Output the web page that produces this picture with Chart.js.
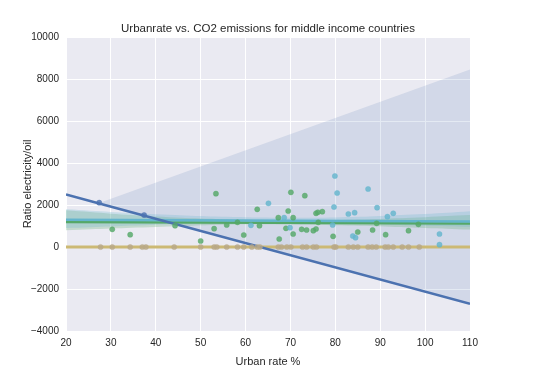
<!DOCTYPE html>
<html>
<head>
<meta charset="utf-8">
<script src="https://cdn.jsdelivr.net/npm/chart.js@4/dist/chart.umd.min.js"></script>
<style>
  html, body { margin: 0; padding: 0; background: #fff; }
  #wrap { width: 540px; height: 369px; }
</style>
</head>
<body>
<div id="wrap"><canvas id="chart"></canvas></div>
<script>
// axis ticks
const xTicks = [20, 30, 40, 50, 60, 70, 80, 90, 100, 110];
const yTicks = [-4000, -2000, 0, 2000, 4000, 6000, 8000, 10000];

// scatter points
const bluePts = [[27.4, 2110], [37.4, 1520]];
const greenPts = [[30.3, 841], [34.3, 587], [44.3, 1016], [50.0, 286], [53.0, 873], [53.4, 2540], [55.8, 1048],
  [58.2, 1175], [59.6, 571], [62.6, 1794], [63.1, 1016], [67.3, 1397], [67.5, 381], [69.0, 889], [69.5, 1714],
  [70.1, 2603], [70.6, 1397], [70.6, 619], [72.5, 841], [73.2, 2444], [73.6, 810], [75.1, 778], [75.7, 857],
  [75.7, 1603], [76.1, 1651], [76.2, 1175], [77.1, 1683], [79.5, 508], [85.0, 714], [88.3, 810], [89.2, 1127],
  [91.2, 587], [96.3, 778], [98.5, 1080]];
const cyanPts = [[61.2, 1032], [65.1, 2079], [68.6, 1397], [69.9, 920], [79.4, 1048], [79.7, 1905], [79.9, 3381],
  [80.4, 2571], [82.9, 1571], [83.9, 524], [84.3, 1635], [84.5, 444], [87.3, 2762], [89.3, 1873], [91.6, 1444],
  [92.9, 1603], [103.2, 619], [103.2, 111]];
const goldX = [27.7, 30.3, 34.3, 37.0, 37.8, 44.1, 50.0, 53.0, 53.6, 55.8, 58.2, 59.6, 61.4, 62.6, 63.2, 67.3,
  68.0, 69.2, 70.1, 72.7, 73.6, 75.1, 75.8, 79.7, 80.1, 82.9, 84.0, 85.0, 87.3, 88.2, 89.1, 91.1, 91.8, 92.9,
  94.9, 96.3, 98.7];

// regression lines (x, y)
const blueFit = [[20, 2500], [27.4, 2072], [110, -2700]];
const blueUpper = [[27.4, 2090], [110, 8450]];
const greenFit = [[20, 1190], [110, 1120]];
const cyanFit = [[20, 1300], [110, 1215]];
const goldFit = [[20, 0], [110, 0]];

// confidence bands
const bandX = [20, 40, 60, 80, 100, 110];
const greenUpper = [1750, 1450, 1300, 1290, 1420, 1520];
const greenLower = [800, 950, 1080, 1040, 910, 830];
const cyanUpper = [1800, 1560, 1420, 1410, 1570, 1700];
const cyanLower = [900, 1060, 1190, 1130, 1010, 960];

const titleText = 'Urbanrate vs. CO2 emissions for middle income countries';

const C = {
  blue: '#4C72B0', green: '#55A868', cyan: '#64B5CD', gold: '#CCB974'
};

function pts(arr) { return arr.map(p => ({ x: p[0], y: p[1] })); }
function band(ys) { return bandX.map((x, i) => ({ x: x, y: ys[i] })); }
function fitAt(x) {
  const a = blueFit[1], b = blueFit[2];
  return a[1] + (b[1] - a[1]) * (x - a[0]) / (b[0] - a[0]);
}
function lineDs(data, color, width, order) {
  return { data: data, showLine: true, borderColor: color, borderWidth: width, pointRadius: 0, fill: false, order: order };
}
function scatterDs(data, color, order) {
  return { data: data, showLine: false, pointRadius: 2.6, pointBackgroundColor: color + 'D0',
    pointBorderColor: color + 'D0', pointBorderWidth: 0.5, order: order };
}

const datasets = [
  // 0: blue band lower edge (the fit itself), 1: blue band upper
  { data: blueUpper.map(p => ({ x: p[0], y: fitAt(p[0]) })), showLine: true, borderWidth: 0, borderColor: 'transparent', pointRadius: 0, fill: false, order: 20 },
  { data: pts(blueUpper), showLine: true, borderWidth: 0, borderColor: 'transparent', pointRadius: 0, fill: { target: 0 }, backgroundColor: 'rgba(76,114,176,0.15)', order: 19 },
  // 2,3: green band
  { data: band(greenLower), showLine: true, borderWidth: 0, borderColor: 'transparent', pointRadius: 0, fill: false, order: 18, tension: 0.4 },
  { data: band(greenUpper), showLine: true, borderWidth: 0, borderColor: 'transparent', pointRadius: 0, fill: { target: 2 }, backgroundColor: 'rgba(85,168,104,0.25)', order: 17, tension: 0.4 },
  // 4,5: cyan band
  { data: band(cyanLower), showLine: true, borderWidth: 0, borderColor: 'transparent', pointRadius: 0, fill: false, order: 16, tension: 0.4 },
  { data: band(cyanUpper), showLine: true, borderWidth: 0, borderColor: 'transparent', pointRadius: 0, fill: { target: 4 }, backgroundColor: 'rgba(100,181,205,0.25)', order: 15, tension: 0.4 },
  lineDs(pts(goldFit), C.gold, 3, 8),
  lineDs(pts(greenFit), C.green, 2.5, 7),
  lineDs(pts(cyanFit), C.cyan, 2.5, 6),
  lineDs(pts(blueFit), C.blue, 2.5, 5),
  scatterDs(goldX.map(x => ({ x: x, y: 0 })), '#B8A888', 4),
  scatterDs(pts(greenPts), C.green, 3),
  scatterDs(pts(cyanPts), C.cyan, 2),
  scatterDs(pts(bluePts), C.blue, 1)
];

const font = '"Liberation Sans", Arial, sans-serif';

// plot background + title centred on the plot area
const framePlugin = {
  id: 'frame',
  beforeDraw(chart) {
    const a = chart.chartArea, ctx = chart.ctx;
    ctx.save();
    ctx.fillStyle = '#EAEAF2';
    ctx.fillRect(a.left, a.top, a.right - a.left, a.bottom - a.top);
    ctx.restore();
  },
  afterDraw(chart) {
    const a = chart.chartArea, ctx = chart.ctx;
    ctx.save();
    ctx.fillStyle = '#262626';
    ctx.font = '11.5px ' + font;
    ctx.textAlign = 'center';
    ctx.textBaseline = 'middle';
    ctx.fillText(titleText, (a.left + a.right) / 2, 28.5);
    ctx.restore();
  }
};

new Chart(document.getElementById('chart'), {
  type: 'scatter',
  data: { datasets: datasets },
  plugins: [framePlugin],
  options: {
    responsive: true,
    maintainAspectRatio: false,
    animation: false,
    layout: { padding: { left: 0, right: 70, top: 37, bottom: 0 } },
    plugins: {
      legend: { display: false },
      tooltip: { enabled: false },
      title: { display: false }
    },
    scales: {
      x: {
        type: 'linear',
        min: 20, max: 110,
        afterBuildTicks(scale) { scale.ticks = xTicks.map(v => ({ value: v })); },
        afterFit(scale) { scale.height = 38; },
        grid: { color: '#ffffff', lineWidth: 1, drawTicks: false },
        border: { display: false },
        ticks: { color: '#262626', font: { family: font, size: 10 }, padding: 6 },
        title: { display: true, text: 'Urban rate %', color: '#262626', font: { family: font, size: 11 }, padding: { top: 0, bottom: 0 } }
      },
      y: {
        type: 'linear',
        min: -4000, max: 10000,
        afterBuildTicks(scale) { scale.ticks = yTicks.map(v => ({ value: v })); },
        afterFit(scale) { scale.width = 66; },
        grid: { color: '#ffffff', lineWidth: 1, drawTicks: false },
        border: { display: false },
        ticks: {
          color: '#262626', font: { family: font, size: 10 }, padding: 7,
          callback: v => String(v).replace('-', '\u2212')
        },
        title: { display: true, text: 'Ratio electricity/oil', color: '#262626', font: { family: font, size: 11 }, padding: { top: 21, bottom: 0 } }
      }
    }
  }
});
</script>
</body>
</html>
